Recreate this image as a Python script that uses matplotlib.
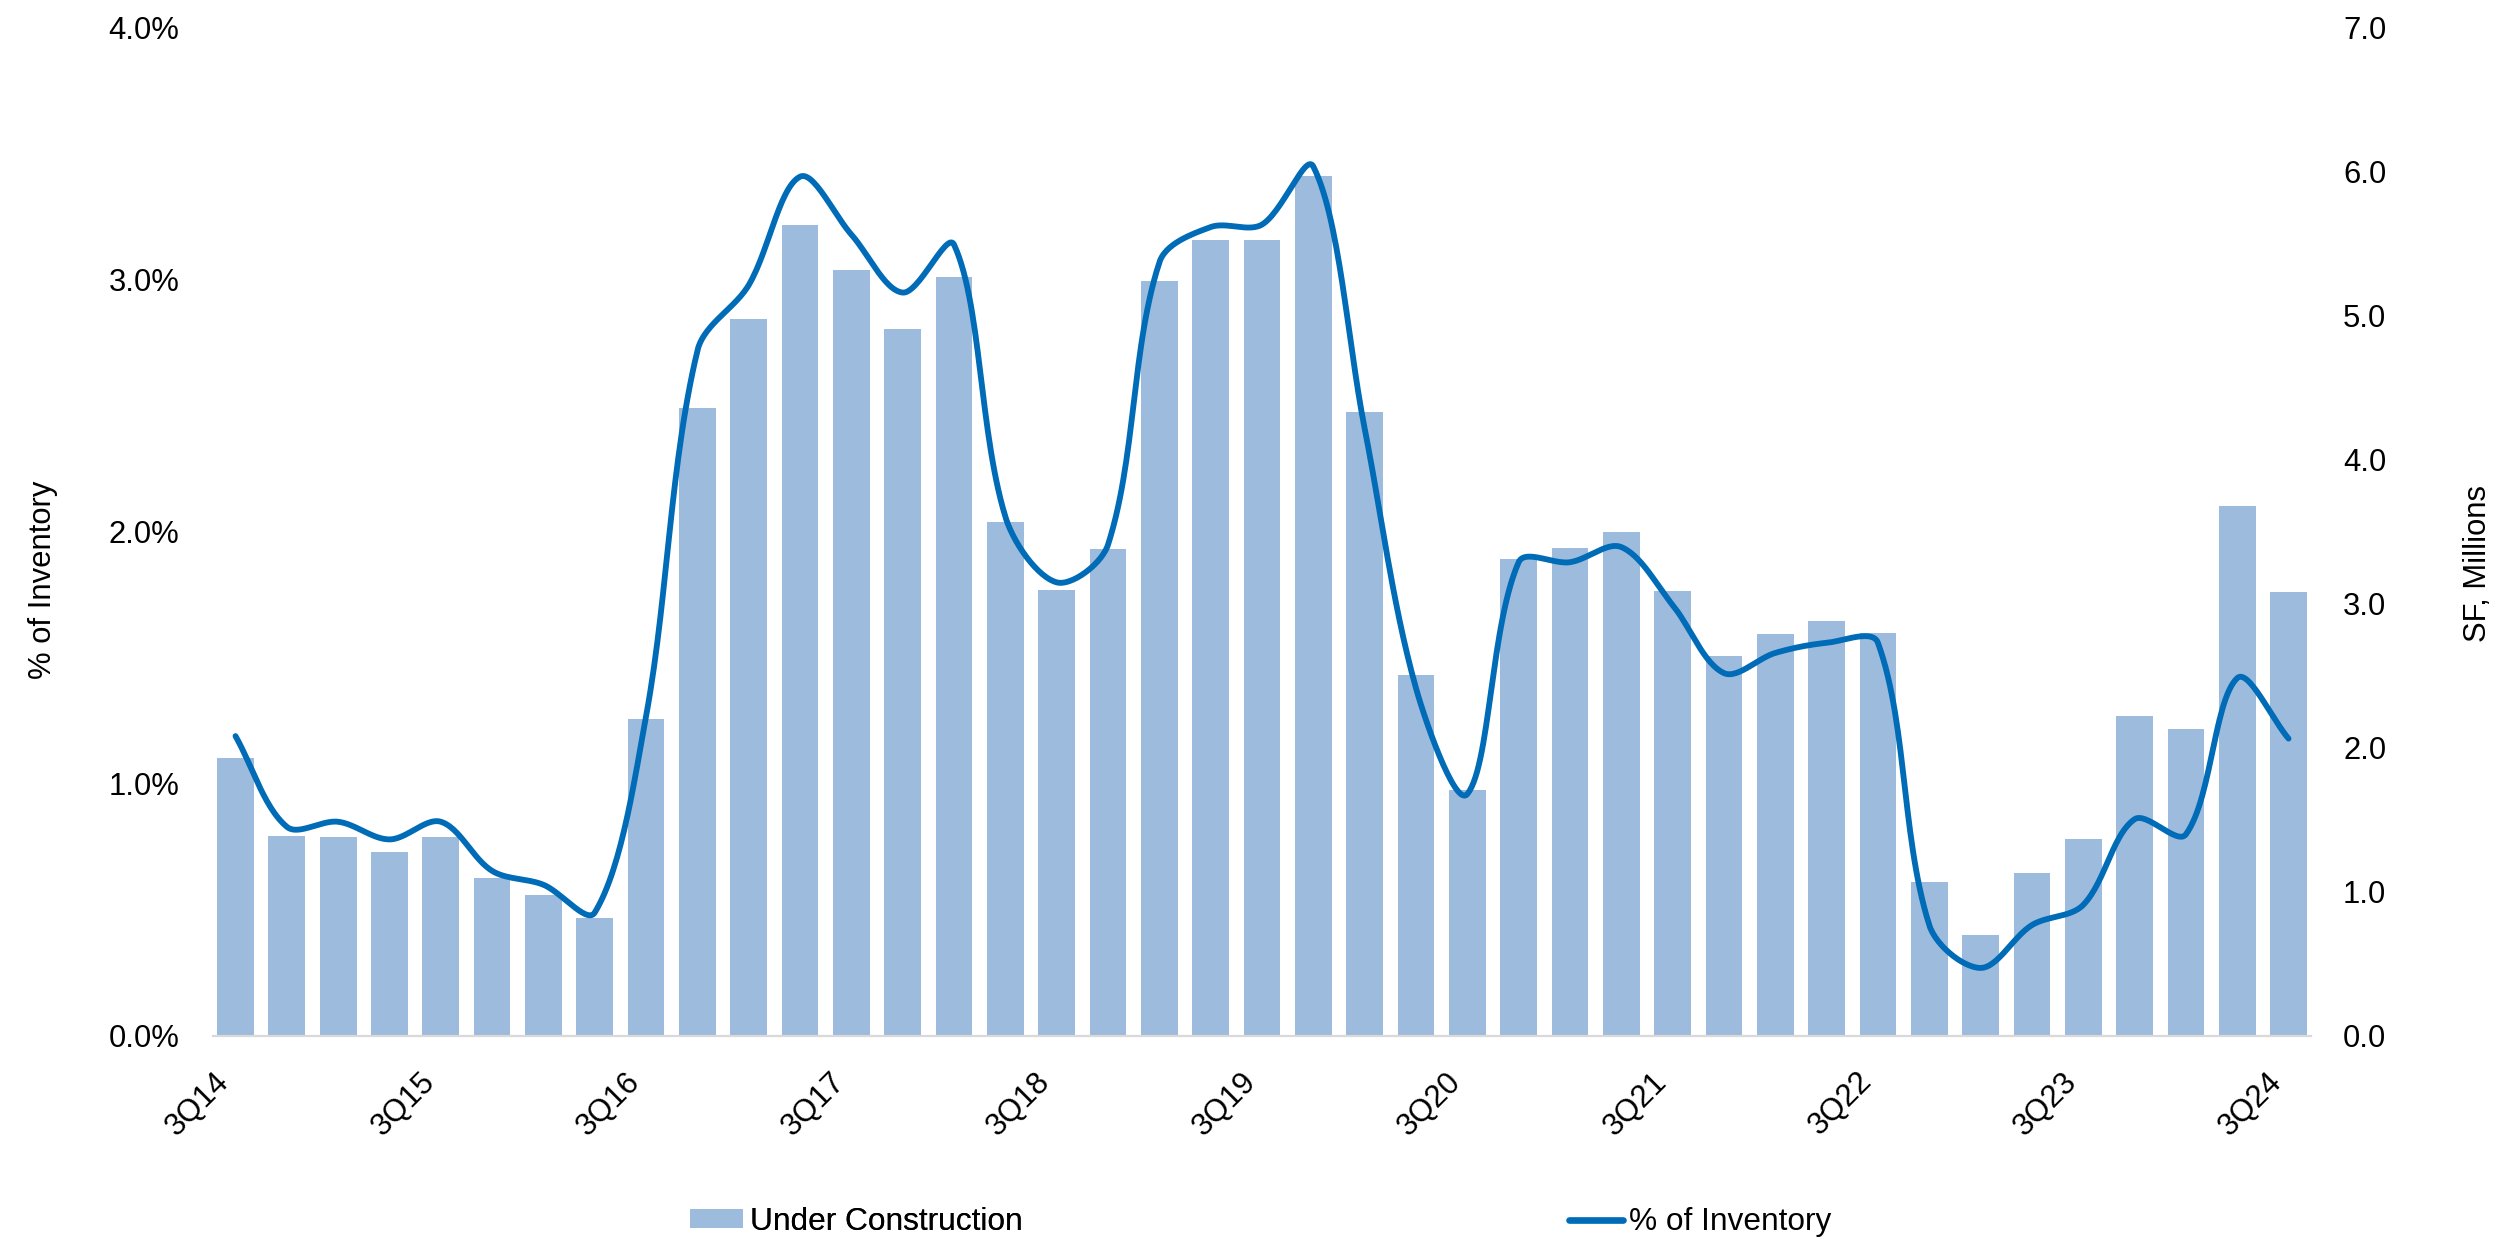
import numpy as np
import matplotlib
matplotlib.use("Agg")
import matplotlib.pyplot as plt
from matplotlib.patches import Patch
from matplotlib.lines import Line2D
from matplotlib.ticker import FuncFormatter, MultipleLocator

plt.rcParams['font.family'] = ['Liberation Sans', 'DejaVu Sans']

quarters = ['3Q14', '4Q14', '1Q15', '2Q15', '3Q15', '4Q15', '1Q16', '2Q16',
            '3Q16', '4Q16', '1Q17', '2Q17', '3Q17', '4Q17', '1Q18', '2Q18',
            '3Q18', '4Q18', '1Q19', '2Q19', '3Q19', '4Q19', '1Q20', '2Q20',
            '3Q20', '4Q20', '1Q21', '2Q21', '3Q21', '4Q21', '1Q22', '2Q22',
            '3Q22', '4Q22', '1Q23', '2Q23', '3Q23', '4Q23', '1Q24', '2Q24',
            '3Q24']

# Square feet under construction, millions
under_construction = [1.93, 1.39, 1.38, 1.28, 1.38, 1.10, 0.98, 0.82,
                      2.20, 4.36, 4.98, 5.63, 5.32, 4.91, 5.27, 3.57,
                      3.10, 3.38, 5.24, 5.53, 5.53, 5.97, 4.33, 2.51,
                      1.71, 3.31, 3.39, 3.50, 3.09, 2.64, 2.79, 2.88,
                      2.80, 1.07, 0.70, 1.13, 1.37, 2.22, 2.13, 3.68,
                      3.08]

# Under construction as a share of inventory, percent
pct_inventory = [1.19, 0.83, 0.85, 0.78, 0.85, 0.655, 0.60, 0.49,
                 1.27, 2.72, 2.98, 3.41, 3.18, 2.95, 3.14, 2.06,
                 1.80, 1.95, 3.07, 3.21, 3.22, 3.45, 2.41, 1.38,
                 0.96, 1.88, 1.88, 1.94, 1.71, 1.44, 1.52, 1.56,
                 1.56, 0.44, 0.27, 0.44, 0.52, 0.86, 0.80, 1.42,
                 1.18]

BAR_COLOR = '#9DBBDD'
LINE_COLOR = '#006BB6'
AXIS_COLOR = '#D9D9D9'
FS = 22.3
LEG_FS = 22.8
LW = 4.2


def smooth_curve(px, py, steps=30):
    """Bezier smoothing through every point, with control arms scaled by
    the lengths of neighbouring segments (spreadsheet-style smoothed line).
    Works in display coordinates."""
    P = np.column_stack([px, py]).astype(float)
    P = np.vstack([P[:1], P, P[-1:]])
    out = []
    t = np.linspace(0, 1, steps, endpoint=False)[:, None]
    for i in range(1, len(P) - 2):
        p0, p1, p2, p3 = P[i - 1], P[i], P[i + 1], P[i + 2]
        d01 = np.hypot(*(p1 - p0))
        d12 = np.hypot(*(p2 - p1))
        d23 = np.hypot(*(p3 - p2))
        f1 = d12 / (d01 + d12) / 3.0 if d01 + d12 > 0 else 0
        f2 = d12 / (d12 + d23) / 3.0 if d12 + d23 > 0 else 0
        c1 = p1 + (p2 - p0) * f1
        c2 = p2 - (p3 - p1) * f2
        pts = ((1 - t) ** 3) * p1 + 3 * ((1 - t) ** 2) * t * c1 \
            + 3 * (1 - t) * t ** 2 * c2 + t ** 3 * p2
        out.append(pts)
    out.append(P[-1:])
    return np.vstack(out)


fig = plt.figure(figsize=(25.11, 12.38), dpi=100)
ax_pct = fig.add_axes([0.0848, 0.1632, 0.8356, 0.8142])
ax_sf = ax_pct.twinx()

x = np.arange(len(quarters))

# Bars on the secondary (right) axis, drawn beneath the line
ax_sf.bar(x, under_construction, width=0.715, color=BAR_COLOR, zorder=1)
ax_sf.set_ylim(0, 7)
ax_sf.yaxis.set_major_locator(MultipleLocator(1))
ax_sf.yaxis.set_major_formatter(FuncFormatter(lambda v, p: f"{v:.1f}"))

ax_pct.set_zorder(ax_sf.get_zorder() + 1)
ax_pct.patch.set_visible(False)
ax_pct.set_ylim(0, 4)
ax_pct.set_xlim(-0.44, len(quarters) - 1 + 0.44)
ax_pct.yaxis.set_major_locator(MultipleLocator(1))
ax_pct.yaxis.set_major_formatter(FuncFormatter(lambda v, p: f"{v:.1f}%"))

# Smooth the line in screen space, then map back to data coordinates
disp = ax_pct.transData.transform(np.column_stack([x, pct_inventory]))
curve = ax_pct.transData.inverted().transform(smooth_curve(disp[:, 0], disp[:, 1]))
ax_pct.plot(curve[:, 0], curve[:, 1], color=LINE_COLOR, lw=LW,
            solid_capstyle='round', zorder=3)

ax_pct.set_xticks(x[::4])
ax_pct.set_xticklabels(quarters[::4], rotation=45, ha='right',
                       rotation_mode='default')

for a in (ax_pct, ax_sf):
    for s in a.spines.values():
        s.set_visible(False)
    a.tick_params(length=0, labelsize=FS, colors='black')
ax_pct.spines['bottom'].set_visible(True)
ax_pct.spines['bottom'].set_color(AXIS_COLOR)
ax_pct.spines['bottom'].set_linewidth(1.6)
ax_pct.tick_params(axis='y', pad=24)
ax_pct.tick_params(axis='x', pad=22)
ax_sf.tick_params(axis='y', pad=23)

fig.text(0.0171, 0.5315, '% of Inventory', rotation=90, ha='center',
         va='center', fontsize=FS)
fig.text(0.987, 0.545, 'SF, Millions', rotation=90, ha='center',
         va='center', fontsize=FS)

leg_kw = dict(loc='center left', frameon=False, fontsize=LEG_FS, borderpad=0,
              borderaxespad=0, handlelength=1.68, handleheight=0.55,
              handletextpad=0.2)
leg1 = fig.legend([Patch(facecolor=BAR_COLOR, edgecolor='none')],
                  ['Under Construction'], bbox_to_anchor=(0.2748, 0.0129),
                  **leg_kw)
fig.add_artist(leg1)
fig.legend([Line2D([0], [0], color=LINE_COLOR, lw=4.8, solid_capstyle='round')],
           ['% of Inventory'], bbox_to_anchor=(0.6250, 0.0129), **leg_kw)

fig.savefig('out.png', dpi=100)
